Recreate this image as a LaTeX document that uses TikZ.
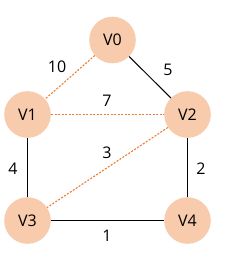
\documentclass[tikz,border=0pt]{standalone}
\usepackage{fontspec}
\setmainfont{Open Sans}
\definecolor{peach}{HTML}{F8CBAD}
\definecolor{orng}{HTML}{ED7D31}
\begin{document}
\begin{tikzpicture}[x=1pt,y=-1pt,
  vert/.style={circle,fill=peach,minimum size=46.6pt,inner sep=0pt,font=\fontsize{16}{18}\selectfont},
  solidedge/.style={draw=black,line width=1pt},
  dotedge/.style={draw=orng,line width=1.1pt,dash pattern=on 2pt off 1.5pt},
  lbl/.style={font=\fontsize{16}{18}\selectfont,inner sep=0pt}]
\fill[white] (0,0) rectangle (224,256);
\useasboundingbox (0,0) rectangle (224,256);
\node[vert] (v0) at (112.5,40) {V0};
\node[vert] (v1) at (27.5,114.5) {V1};
\node[vert] (v2) at (187.5,114.5) {V2};
\node[vert] (v3) at (27.5,220.5) {V3};
\node[vert] (v4) at (187.5,220.5) {V4};
\draw[dotedge] (v0) -- (v1);
\draw[solidedge] (v0) -- (v2);
\draw[dotedge] (v1) -- (v2);
\draw[solidedge] (v1) -- (v3);
\draw[dotedge] (v2) -- (v3);
\draw[solidedge] (v2) -- (v4);
\draw[solidedge] (v3) -- (v4);
\node[lbl] (l10) at (57,67) {10};
\node[lbl] (l5) at (168,70) {5};
\node[lbl] (l7) at (107,101) {7};
\node[lbl] (l4) at (13,169) {4};
\node[lbl] (l3) at (107,153) {3};
\node[lbl] (l2) at (201,169) {2};
\node[lbl] (l1) at (107,236) {1};
\end{tikzpicture}
\end{document}
